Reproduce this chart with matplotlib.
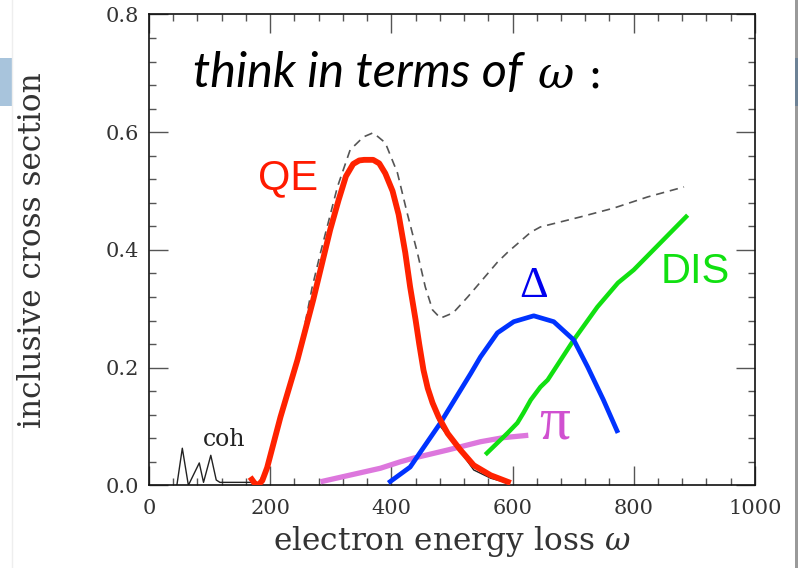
import matplotlib
matplotlib.use("Agg")
import matplotlib.pyplot as plt
from matplotlib.patches import Rectangle
from matplotlib.lines import Line2D
from matplotlib.ticker import MultipleLocator

plt.rcParams['mathtext.fontset'] = 'dejavuserif'

# quasi-elastic peak (red)
qe_x = [167, 174, 180, 187, 195, 217, 245, 271, 299, 313, 325, 337, 347, 355,
        370, 380, 390, 402, 412, 423, 431, 440, 446, 453, 460, 468, 478, 493,
        514, 536, 564, 597]
qe_y = [0.014, 0.004, 0.0, 0.008, 0.03, 0.116, 0.213, 0.315, 0.434, 0.485,
        0.525, 0.546, 0.552, 0.553, 0.553, 0.547, 0.530, 0.500, 0.460, 0.395,
        0.337, 0.281, 0.240, 0.196, 0.165, 0.140, 0.116, 0.088, 0.060, 0.034,
        0.017, 0.004]

# QE calculation, thin line (tail shows below the red band)
qe_th_x = [464, 481, 514, 536, 564, 592]
qe_th_y = [0.150, 0.100, 0.057, 0.026, 0.012, 0.004]

# coherent (elastic) peaks
coh_x = [46, 55, 65, 83, 90, 102, 111, 117, 167, 178]
coh_y = [0.0, 0.063, 0.0, 0.038, 0.005, 0.051, 0.009, 0.005, 0.005, 0.004]

# total inclusive cross section (dashed)
tot_x = [180, 200, 225, 250, 269, 283, 311, 332, 354, 370, 390, 410, 426,
         443, 456, 468, 481, 502, 526, 536, 575, 592, 630, 646, 712, 767,
         823, 883]
tot_y = [0.0, 0.045, 0.14, 0.235, 0.335, 0.395, 0.507, 0.57, 0.592, 0.599,
         0.582, 0.531, 0.463, 0.395, 0.337, 0.298, 0.284, 0.293, 0.32, 0.332,
         0.379, 0.396, 0.43, 0.439, 0.456, 0.471, 0.49, 0.507]

# delta resonance (blue)
d_x = [395, 431, 481, 503, 531, 547, 575, 602, 635, 668, 701, 724, 750, 774]
d_y = [0.004, 0.031, 0.106, 0.143, 0.19, 0.218, 0.259, 0.278, 0.288, 0.278,
       0.247, 0.201, 0.145, 0.089]

# deep inelastic (green)
dis_x = [555, 575, 592, 608, 618, 630, 646, 658, 701, 740, 774, 800, 889]
dis_y = [0.052, 0.072, 0.089, 0.106, 0.123, 0.145, 0.167, 0.179, 0.247,
         0.303, 0.344, 0.366, 0.459]

# pion production (pink)
pi_x = [283, 382, 415, 436, 493, 547, 585, 626]
pi_y = [0.006, 0.029, 0.040, 0.046, 0.060, 0.074, 0.081, 0.085]

xticks = [0, 200, 400, 600, 800, 1000]
yticks = [0.0, 0.2, 0.4, 0.6, 0.8]

fig = plt.figure(figsize=(7.98, 5.68), dpi=100)
ax = fig.add_axes([0.1867, 0.1456, 0.7593, 0.8289])

ax.plot(coh_x, coh_y, color='#222222', lw=1.0, zorder=2)
ax.plot(qe_th_x, qe_th_y, color='#222222', lw=1.0, zorder=2)
ax.plot(tot_x, tot_y, color='#555555', lw=1.2, ls=(0, (5, 3.5)), zorder=2)
ax.plot(pi_x, pi_y, color='#dd77dd', lw=3.8, solid_capstyle='butt', zorder=3)
ax.plot(dis_x, dis_y, color='#11e011', lw=3.2, solid_capstyle='butt', zorder=3)
ax.plot(d_x, d_y, color='#0033ff', lw=3.4, solid_capstyle='butt',
        solid_joinstyle='round', zorder=4)
ax.plot(qe_x, qe_y, color='#ff2200', lw=4.2, solid_capstyle='butt',
        solid_joinstyle='round', zorder=5)

ax.set_xlim(0, 1000)
ax.set_ylim(0, 0.8)
ax.set_xticks(xticks)
ax.set_yticks(yticks)
ax.set_xticklabels([str(t) for t in xticks])
ax.set_yticklabels(['%.1f' % t for t in yticks])
ax.xaxis.set_minor_locator(MultipleLocator(40))
ax.yaxis.set_minor_locator(MultipleLocator(0.04))
ax.tick_params(which='both', direction='in', top=True, right=True,
               color='#555555', width=1.0)
ax.tick_params(which='major', length=13.5, labelsize=15, labelcolor='#333333')
ax.tick_params(axis='x', which='major', pad=10)
ax.tick_params(axis='y', which='major', pad=7)
ax.tick_params(which='minor', length=5)
for lab in ax.get_xticklabels() + ax.get_yticklabels():
    lab.set_family('DejaVu Serif')
for s in ax.spines.values():
    s.set_color('#111111')
    s.set_linewidth(1.2)

ax.set_xlabel(r'electron energy loss $\omega$', family='DejaVu Serif',
              fontsize=22.5, color='#333333')
ax.set_ylabel('inclusive cross section', family='DejaVu Serif',
              fontsize=22.5, color='#333333')
ax.xaxis.set_label_coords(0.5, -0.12)
ax.xaxis.label.set_va('center')
ax.yaxis.set_label_coords(-0.193, 0.5)
ax.yaxis.label.set_va('center')

# curve labels
ax.text(230, 0.522, 'QE', color='#ff1a00', fontsize=30,
        family='Liberation Sans', ha='center', va='center')
ax.text(902, 0.362, 'DIS', color='#11e011', fontsize=30,
        family='Liberation Sans', ha='center', va='center')
ax.text(635, 0.339, '\u0394', color='#0000ee', fontsize=32,
        family='Liberation Serif', ha='center', va='center')
ax.text(669, 0.105, '\u03c0', color='#d050d0', fontsize=44,
        family='Liberation Serif', ha='center', va='center')
ax.text(124, 0.077, 'coh', color='#222222', fontsize=17,
        family='DejaVu Serif', ha='center', va='center')

# heading inside the frame
ax.text(0.073, 0.875, 'think in terms of', transform=ax.transAxes,
        fontsize=35, style='italic', family=['Lato', 'DejaVu Sans'],
        ha='left', va='center', color='black')
ax.text(0.64, 0.872, r'$\omega$ :', transform=ax.transAxes, fontsize=32,
        family='DejaVu Serif', ha='left', va='center', color='black')

# slide edge decorations
fig.add_artist(Rectangle((0, 1 - 106 / 568), 12 / 798, 48 / 568,
                         transform=fig.transFigure, color='#a8c4dc', lw=0))
fig.add_artist(Line2D([12 / 798, 12 / 798], [0, 1], transform=fig.transFigure,
                      color='#eeeeee', lw=1))
fig.add_artist(Rectangle((795 / 798, 0), 3 / 798, 1,
                         transform=fig.transFigure, color='#9a9a9a', lw=0))
fig.add_artist(Rectangle((795 / 798, 1 - 106 / 568), 3 / 798, 48 / 568,
                         transform=fig.transFigure, color='#6d8296', lw=0))

fig.savefig('out.png', dpi=100)
